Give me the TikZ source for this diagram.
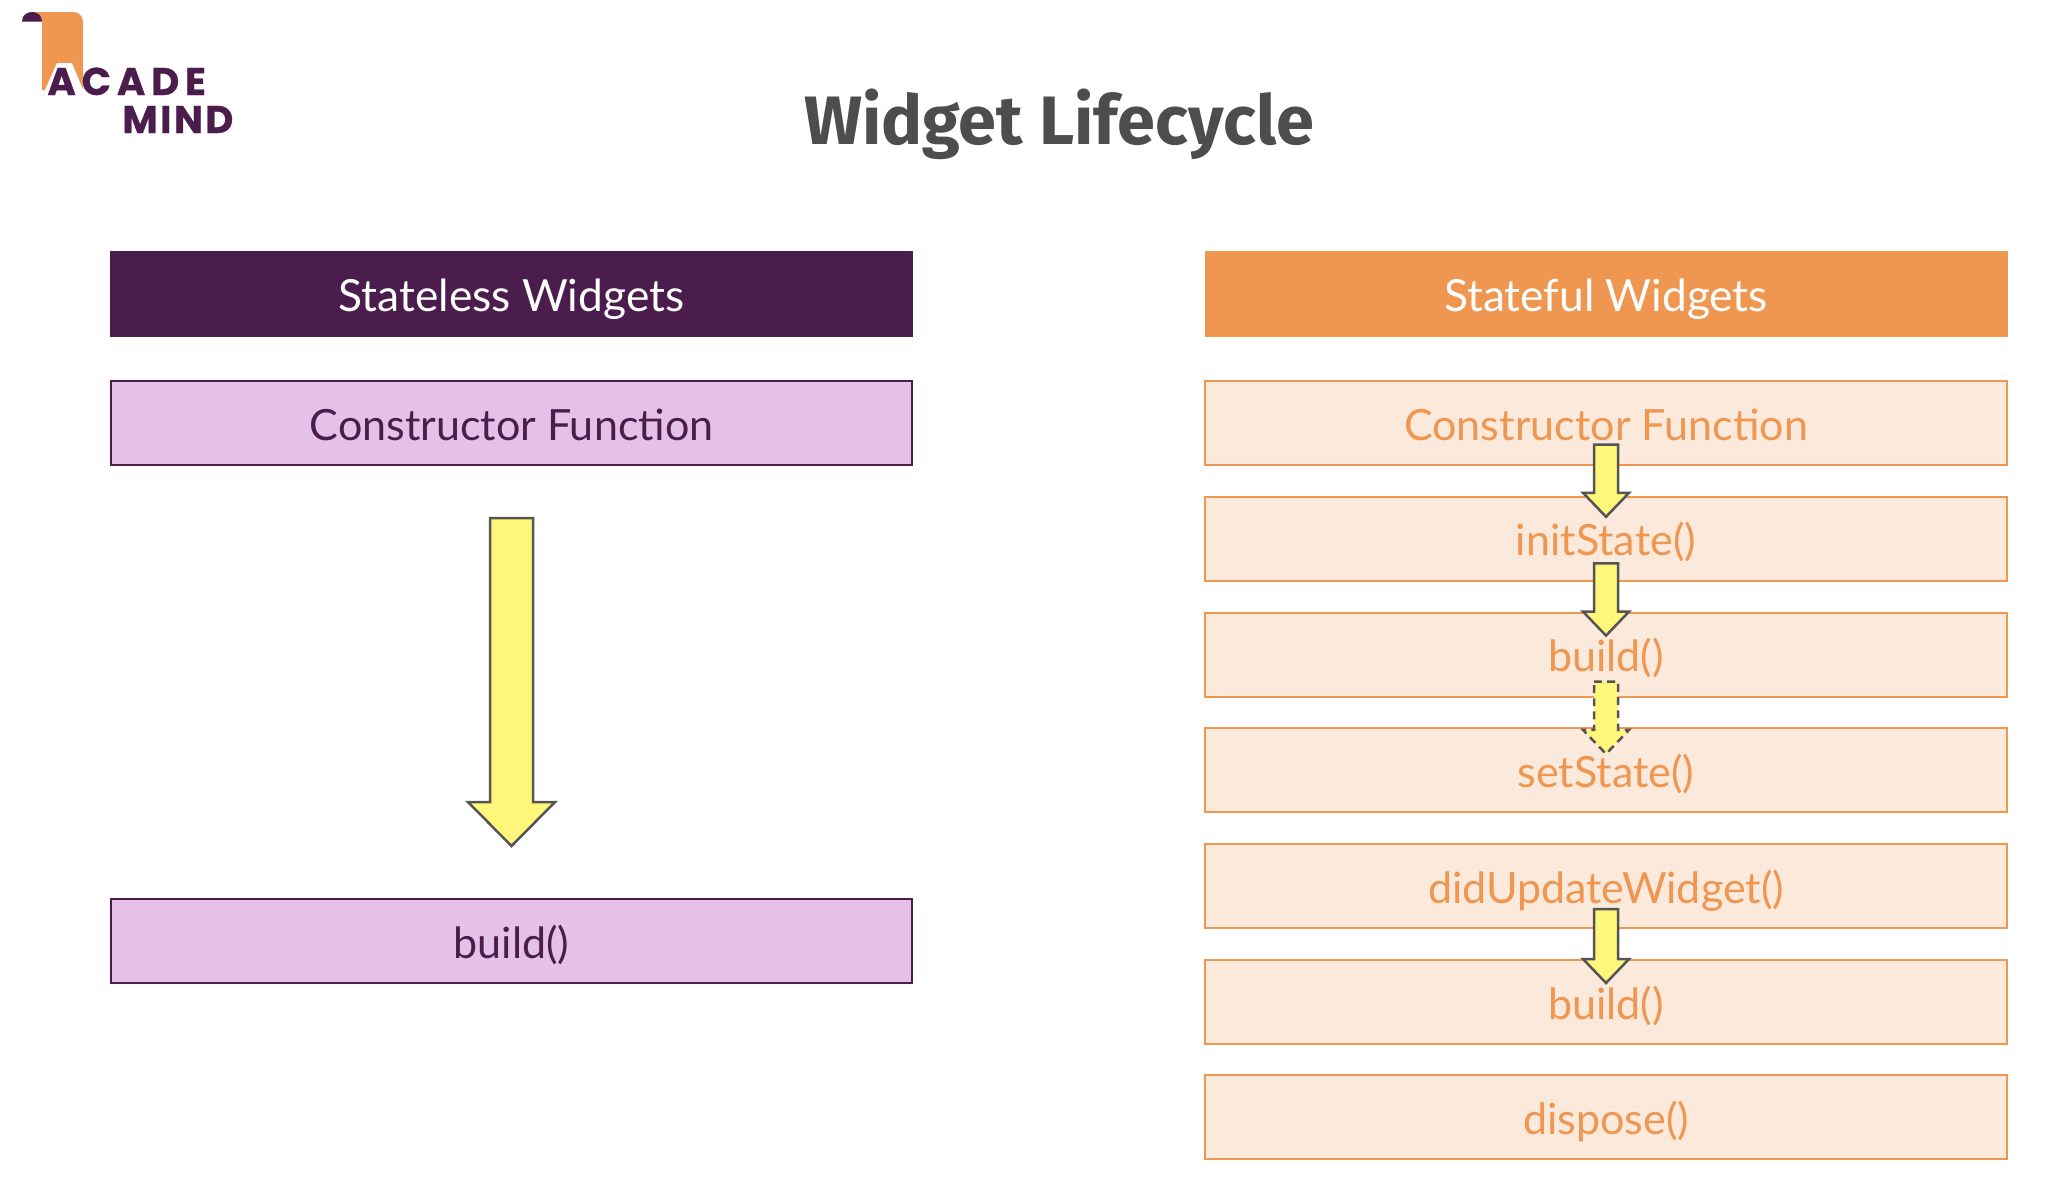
\documentclass[tikz,border=0pt]{standalone}
\usepackage{fontspec}
\setmainfont{Lato}
\newfontfamily\titlefont{Fira Sans}
\newfontfamily\acadefont[LetterSpace=15,FakeBold=0.6]{Poppins}
\newfontfamily\mindfont[LetterSpace=6,FakeBold=0.6]{Poppins}
\usetikzlibrary{calc}
\definecolor{acadpurple}{HTML}{4A1D4D}
\definecolor{acadorange}{HTML}{EF9651}
\definecolor{paleorange}{HTML}{FBE9DC}
\definecolor{palepurple}{HTML}{E5C1E8}
\definecolor{arrowyellow}{HTML}{FFF77A}
\definecolor{arrowgrey}{HTML}{555555}
\definecolor{titlegrey}{HTML}{4D4D4D}
\tikzset{
    colbox/.style={minimum width=801*0.02cm,minimum height=84*0.02cm,inner sep=0pt,align=center,text height=21pt,text depth=1.5pt,font=\fontsize{24.5}{28}\selectfont},
    headL/.style={colbox,minimum width=803*0.02cm,minimum height=86*0.02cm,fill=acadpurple,text=white,font=\fontsize{25.2}{28}\selectfont},
    headR/.style={colbox,minimum width=803*0.02cm,minimum height=86*0.02cm,fill=acadorange,text=white,font=\fontsize{25.2}{28}\selectfont},
    boxL/.style={colbox,draw=acadpurple,fill=palepurple,text=acadpurple,line width=2*0.02cm},
    boxR/.style={colbox,minimum width=802*0.02cm,draw=acadorange,fill=paleorange,text=acadorange,line width=2*0.02cm},
    flowarrow/.style={draw=arrowgrey,fill=arrowyellow,line width=2.5*0.02cm,line join=miter}
}
\newcommand{\blockarrow}[8][]{
    \coordinate (tail) at ($(#2.south)+(0,#4)$);
    \coordinate (tip) at ($(#3.north)+(0,#5)$);
    \draw[flowarrow,#1] ($(tail)+(-#6,0)$) -- ($(tail)+(#6,0)$) -- ($(tip)+(#6,-#8)$) -- ($(tip)+(#7,-#8)$)
        -- (tip) -- ($(tip)+(-#7,-#8)$) -- ($(tip)+(-#6,-#8)$) -- cycle;
}
\begin{document}
\begin{tikzpicture}[x=0.02cm,y=-0.02cm]
    \useasboundingbox (0,0) rectangle (2048,1188);

    \fill[acadorange] (32,12) -- (73,12) .. controls (79,12) and (83,16) .. (83,22) -- (83,90) -- (42,90) -- (42,21.5) -- cycle;
    \fill[acadpurple] (22,21.5) .. controls (22,15) and (27,12) .. (32,12) .. controls (37,12) and (42,15) .. (42,21.5) -- cycle;
    \fill[white] (44,92) -- (57,63) -- (72,63) -- (84,92) -- cycle;

    \node[anchor=base west,inner sep=0pt,text=acadpurple,font=\acadefont\bfseries\fontsize{22}{24}\selectfont] (acade) at (47,95) {ACADE};
    \node[anchor=base west,inner sep=0pt,text=acadpurple,font=\mindfont\bfseries\fontsize{22}{24}\selectfont] (mind) at (122,133) {MIND};

    \node[text=titlegrey,font=\titlefont\bfseries\fontsize{39}{44}\selectfont,inner sep=0pt,anchor=base] (title) at (1059,144.5) {Widget Lifecycle};

    \node[headL] (statelessHead) at (511.5,294) {Stateless Widgets};
    \node[headR] (statefulHead) at (1606,294) {Stateful Widgets};

    \node[boxL] (ctorL) at (511.5,423) {Constructor Function};
    \node[boxL] (buildL) at (511.5,941) {build()};

    \node[boxR] (ctorR) at (1606,423) {Constructor Function};
    \node[boxR] (initR) at (1606,538.8) {initState()};
    \node[boxR] (buildR) at (1606,654.6) {build()};
    \node[boxR] (setR) at (1606,770.4) {setState()};
    \node[boxR] (didR) at (1606,886.2) {didUpdateWidget()};
    \node[boxR] (rebuildR) at (1606,1002) {build()};
    \node[boxR] (disposeR) at (1606,1117.3) {dispose()};

    \blockarrow{ctorL}{buildL}{52}{-52}{21.5}{43.5}{44}
    \blockarrow{ctorR}{initR}{-21.5}{21}{12}{23}{24}
    \blockarrow{initR}{buildR}{-18.5}{24}{12}{23}{24}
    \blockarrow[dashed,dash pattern=on 4.5pt off 3pt]{buildR}{setR}{-16}{26.5}{12}{23}{24}
    \blockarrow{didR}{rebuildR}{-20}{24}{12}{23}{24}
\end{tikzpicture}
\end{document}
